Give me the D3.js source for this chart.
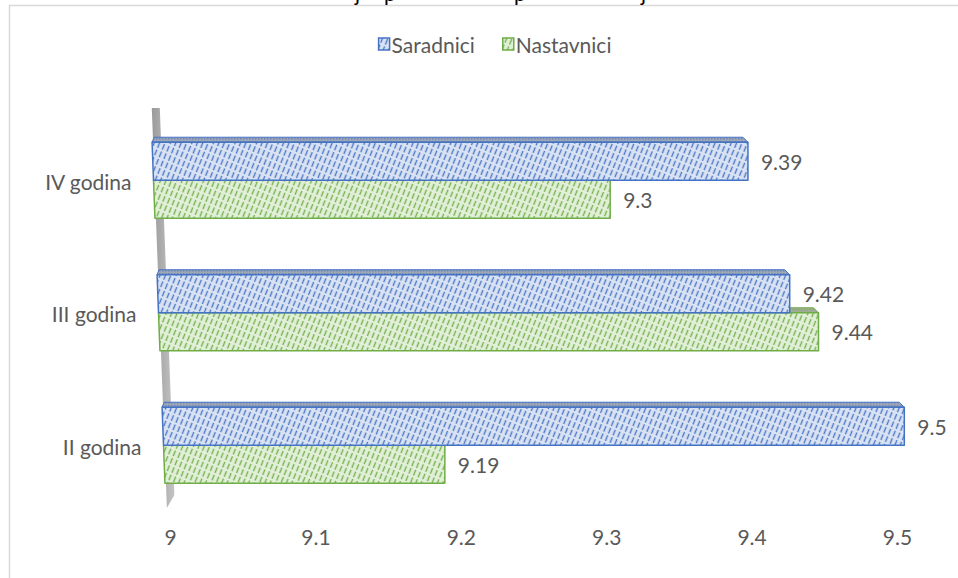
<!DOCTYPE html>
<html>
<head>
<meta charset="utf-8">
<script src="https://cdn.jsdelivr.net/npm/d3@7/dist/d3.min.js"></script>
<style>
  html, body { margin: 0; padding: 0; background: #fff; }
  svg { display: block; }
  text { font-family: Lato, "Open Sans", sans-serif; }
</style>
</head>
<body>
<svg id="chart" width="958" height="578"></svg>
<script>
// ---- data ----
const categories = ["IV godina", "III godina", "II godina"];
const seriesNames = ["Saradnici", "Nastavnici"];
const saradnici = [9.39, 9.42, 9.5];
const nastavnici = [9.3, 9.44, 9.19];
const tickValues = [9, 9.1, 9.2, 9.3, 9.4, 9.5];
const titleFragments = ["j", "p", "p", "j"];

// ---- styles ----
const seriesColors = { "Saradnici": "#4472C4", "Nastavnici": "#70AD47" };
const seriesLight = { "Saradnici": "#dae3f3", "Nastavnici": "#e2f0d9" };
const faceBg = { "Saradnici": "#9ea5b3", "Nastavnici": "#a0ab98" };
const textColor = "#595959";
const fontSize = 21;

const svg = d3.select("#chart");
const W = 958, H = 578;

// chart border
svg.append("rect")
  .attr("x", 9.5).attr("y", 5.5)
  .attr("width", W + 20).attr("height", H + 20)
  .attr("fill", "#fff").attr("stroke", "#d9d9d9").attr("stroke-width", 1.5);

// cut-off title descenders above the chart (the title itself lies outside the picture)
const fragX = [355, 384, 514, 641];
svg.selectAll("text.title-frag").data(titleFragments).join("text")
  .attr("class", "title-frag")
  .attr("x", (d, i) => fragX[i]).attr("y", 0.5)
  .attr("font-family", "'Liberation Serif', 'Times New Roman', serif")
  .attr("font-size", 21).attr("fill", "#000")
  .text(d => d);

// ---- patterns ----
const defs = svg.append("defs");
seriesNames.forEach((s, i) => {
  const p = defs.append("pattern")
    .attr("id", "hatch" + i).attr("patternUnits", "userSpaceOnUse")
    .attr("width", 5).attr("height", 8)
    .attr("patternTransform", "rotate(22)");
  p.append("rect").attr("width", 5).attr("height", 8).attr("fill", seriesLight[s]);
  p.append("line").attr("x1", 1.5).attr("x2", 1.5).attr("y1", 0).attr("y2", 6)
    .attr("stroke", seriesColors[s]).attr("stroke-width", 1.4).attr("stroke-opacity", 0.95);

  const f = defs.append("pattern")
    .attr("id", "face" + i).attr("patternUnits", "userSpaceOnUse")
    .attr("width", 3).attr("height", 3);
  f.append("rect").attr("width", 3).attr("height", 3).attr("fill", faceBg[s]);
  f.append("rect").attr("width", 1.5).attr("height", 1.5).attr("fill", seriesColors[s]).attr("opacity", 0.55);
});
const wallGrad = defs.append("linearGradient").attr("id", "wallGrad")
  .attr("x1", 0).attr("x2", 1).attr("y1", 0).attr("y2", 0);
wallGrad.append("stop").attr("offset", "0%").attr("stop-color", "#9a9a9a");
wallGrad.append("stop").attr("offset", "100%").attr("stop-color", "#c4c4c4");

// ---- scales (perspective: value range depends on vertical position) ----
const y = d3.scaleBand().domain(categories).range([114, 511.5])
  .paddingInner(0.426).paddingOuter(0.213);
const ySub = d3.scaleBand().domain(seriesNames).range([0, y.bandwidth()]);
const leftAt = d3.scaleLinear().domain([180, 445]).range([153.5, 163.5]);
const rightAt = d3.scaleLinear().domain([180, 445]).range([915, 903.5]);
function xAt(yy) {
  return d3.scaleLinear().domain([9, 9.5]).range([leftAt(yy), rightAt(yy)]);
}
const xAxisScale = d3.scaleLinear().domain([9, 9.5]).range([170, 897]);

// ---- back wall (category axis) ----
const wallTop = 108, wallBottom = 508, wallCut = 495;
svg.append("polygon")
  .attr("points", [
    [leftAt(wallTop) + 1, wallTop],
    [leftAt(wallTop) + 9, wallTop],
    [leftAt(wallCut) + 9, wallCut],
    [leftAt(wallBottom) + 1, wallBottom]
  ].map(p => p.join(",")).join(" "))
  .attr("fill", "url(#wallGrad)");

// ---- bars ----
const rows = categories.map((c, i) => ({
  cat: c,
  vals: [
    { s: "Saradnici", si: 0, v: saradnici[i] },
    { s: "Nastavnici", si: 1, v: nastavnici[i] }
  ]
}));
const depth = 5;

rows.forEach(row => {
  // draw Nastavnici first so Saradnici covers its top face
  [row.vals[1], row.vals[0]].forEach(d => {
    const y0 = y(row.cat) + ySub(d.s);
    const y1 = y0 + ySub.bandwidth();
    const yc = (y0 + y1) / 2;
    const xr = xAt(yc)(d.v);
    const xlTop = xAt(y0)(9), xlBot = xAt(y1)(9);
    const g = svg.append("g");
    // top face
    g.append("polygon")
      .attr("points", [
        [xlTop, y0], [xlTop + 2, y0 - depth], [xr - 5, y0 - depth], [xr, y0]
      ].map(p => p.join(",")).join(" "))
      .attr("fill", `url(#face${d.si})`)
      .attr("stroke", seriesColors[d.s]).attr("stroke-width", 1).attr("stroke-linejoin", "round");
    // front face
    g.append("polygon")
      .attr("points", [
        [xlTop, y0], [xr, y0], [xr, y1], [xlBot, y1]
      ].map(p => p.join(",")).join(" "))
      .attr("fill", `url(#hatch${d.si})`)
      .attr("stroke", seriesColors[d.s]).attr("stroke-width", 1.5).attr("stroke-linejoin", "round");
    // data label
    g.append("text")
      .attr("x", xr + 13).attr("y", yc)
      .attr("dominant-baseline", "central")
      .attr("font-size", fontSize).attr("fill", textColor)
      .text(d.v);
  });
});

// ---- category labels ----
svg.selectAll("text.cat").data(categories).join("text")
  .attr("class", "cat")
  .attr("x", d => leftAt(y(d) + y.bandwidth() / 2) - 22)
  .attr("y", d => y(d) + y.bandwidth() / 2 + 1)
  .attr("text-anchor", "end").attr("dominant-baseline", "central")
  .attr("font-size", fontSize).attr("fill", textColor)
  .text(d => d);

// ---- value axis ----
const axis = svg.append("g").attr("transform", "translate(0,528)")
  .call(d3.axisBottom(xAxisScale).tickValues(tickValues).tickSize(0).tickFormat(d3.format("")));
axis.select(".domain").remove();
axis.selectAll("text")
  .attr("font-family", "Lato, 'Open Sans', sans-serif")
  .attr("font-size", fontSize).attr("fill", textColor)
  .attr("dy", "0.32em").attr("y", 10);

// ---- legend ----
const legend = svg.append("g");
const items = legend.selectAll("g").data(seriesNames).join("g");
items.append("rect")
  .attr("width", 11).attr("height", 12).attr("y", -6)
  .attr("fill", (d, i) => `url(#hatch${i})`)
  .attr("stroke", d => seriesColors[d]).attr("stroke-width", 1.5);
items.append("text")
  .attr("x", 13).attr("y", 0).attr("dominant-baseline", "central")
  .attr("font-size", fontSize).attr("fill", textColor)
  .text(d => d);
const legendGap = 28;
let lx = 0;
const widths = [];
items.each(function() { widths.push(this.getBBox().width); });
items.attr("transform", (d, i) => {
  const t = `translate(${lx},0)`;
  lx += widths[i] + legendGap;
  return t;
});
const total = lx - legendGap;
legend.attr("transform", `translate(${495 - total / 2},44)`);
</script>
</body>
</html>
